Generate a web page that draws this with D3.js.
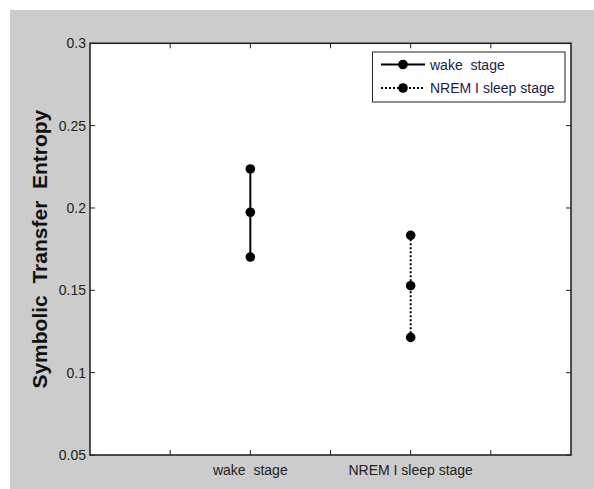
<!DOCTYPE html>
<html>
<head>
<meta charset="utf-8">
<script src="https://d3js.org/d3.v7.min.js"></script>
<style>
  body { margin: 0; background: #fff; }
  text { font-family: Arial, "Liberation Sans", sans-serif; }
</style>
</head>
<body>
<div id="chart"></div>
<script>
// categories on the x axis (positions 1..5, only 2 and 4 labelled)
var xTickLabels = ["", "wake  stage", "", "NREM I sleep stage", ""];
var yTicks = [0.05, 0.1, 0.15, 0.2, 0.25, 0.3];

// series: three points each (upper, mean, lower)
var wakeX = 2;
var wakeValues = [0.2237, 0.1974, 0.1702];
var nremX = 4;
var nremValues = [0.1834, 0.1528, 0.1214];

var seriesNames = ["wake  stage", "NREM I sleep stage"];

var width = 594, height = 489;
var plot = {left: 90, top: 43.3, right: 571, bottom: 455};

var svg = d3.select("#chart").append("svg")
    .attr("width", width)
    .attr("height", height);

// grey figure background
svg.append("rect")
    .attr("x", 10).attr("y", 10)
    .attr("width", width - 10).attr("height", height - 10)
    .attr("fill", "#cccccc");

var x = d3.scaleLinear().domain([0, 6]).range([plot.left, plot.right]);
var y = d3.scaleLinear().domain([0.05, 0.3]).range([plot.bottom, plot.top]);

svg.append("rect")
    .attr("x", plot.left).attr("y", plot.top)
    .attr("width", plot.right - plot.left).attr("height", plot.bottom - plot.top)
    .attr("fill", "#fff")
    .attr("stroke", "#1a1a1a")
    .attr("stroke-width", 1.5);

// y ticks (inside, on both sides) + labels
var gy = svg.append("g");
yTicks.forEach(function(t) {
  gy.append("line")
      .attr("x1", plot.left).attr("x2", plot.left + 5)
      .attr("y1", y(t)).attr("y2", y(t))
      .attr("stroke", "#222");
  gy.append("line")
      .attr("x1", plot.right).attr("x2", plot.right - 5)
      .attr("y1", y(t)).attr("y2", y(t))
      .attr("stroke", "#222");
  gy.append("text")
      .attr("x", plot.left - 4)
      .attr("y", y(t))
      .attr("dy", "0.36em")
      .attr("text-anchor", "end")
      .attr("font-size", 14)
      .attr("fill", "#222")
      .text(t);
});

// x ticks (inside, top & bottom) + labels
var gx = svg.append("g");
xTickLabels.forEach(function(lbl, i) {
  var px = x(i + 1);
  gx.append("line")
      .attr("x1", px).attr("x2", px)
      .attr("y1", plot.bottom).attr("y2", plot.bottom - 5)
      .attr("stroke", "#222");
  gx.append("line")
      .attr("x1", px).attr("x2", px)
      .attr("y1", plot.top).attr("y2", plot.top + 5)
      .attr("stroke", "#222");
  gx.append("text")
      .attr("x", px)
      .attr("y", 475)
      .attr("text-anchor", "middle")
      .attr("font-size", 14)
      .attr("fill", "#222")
      .style("white-space", "pre")
      .attr("xml:space", "preserve")
      .text(lbl);
});

// y label
svg.append("text")
    .attr("transform", "translate(47," + ((plot.top + plot.bottom) / 2) + ") rotate(-90)")
    .attr("text-anchor", "middle")
    .attr("font-size", 21)
    .attr("font-weight", "bold")
    .attr("fill", "#111")
    .attr("xml:space", "preserve")
    .style("white-space", "pre")
    .text("Symbolic  Transfer  Entropy");

// series
function drawSeries(cx, values, dash) {
  var g = svg.append("g");
  g.append("line")
      .attr("x1", x(cx)).attr("x2", x(cx))
      .attr("y1", y(d3.max(values))).attr("y2", y(d3.min(values)))
      .attr("stroke", "#000")
      .attr("stroke-width", 2)
      .attr("stroke-dasharray", dash);
  g.selectAll("circle")
      .data(values)
    .enter().append("circle")
      .attr("cx", x(cx))
      .attr("cy", function(d) { return y(d); })
      .attr("r", 4.8)
      .attr("fill", "#000");
}
drawSeries(wakeX, wakeValues, null);
drawSeries(nremX, nremValues, "2,2");

// legend
var lg = svg.append("g");
lg.append("rect")
    .attr("x", 372.5).attr("y", 52)
    .attr("width", 192.5).attr("height", 50)
    .attr("fill", "#fff")
    .attr("stroke", "#222")
    .attr("stroke-width", 1);
var legendRows = [{name: seriesNames[0], dash: null, cy: 64.5},
                  {name: seriesNames[1], dash: "2,2", cy: 88}];
legendRows.forEach(function(r) {
  lg.append("line")
      .attr("x1", 381).attr("x2", 425)
      .attr("y1", r.cy).attr("y2", r.cy)
      .attr("stroke", "#000")
      .attr("stroke-width", 2)
      .attr("stroke-dasharray", r.dash);
  lg.append("circle")
      .attr("cx", 403).attr("cy", r.cy)
      .attr("r", 4.8)
      .attr("fill", "#000");
  lg.append("text")
      .attr("x", 430)
      .attr("y", r.cy)
      .attr("dy", "0.36em")
      .attr("font-size", 14)
      .attr("fill", "#1c1c48")
      .attr("xml:space", "preserve")
      .style("white-space", "pre")
      .text(r.name);
});
</script>
</body>
</html>
